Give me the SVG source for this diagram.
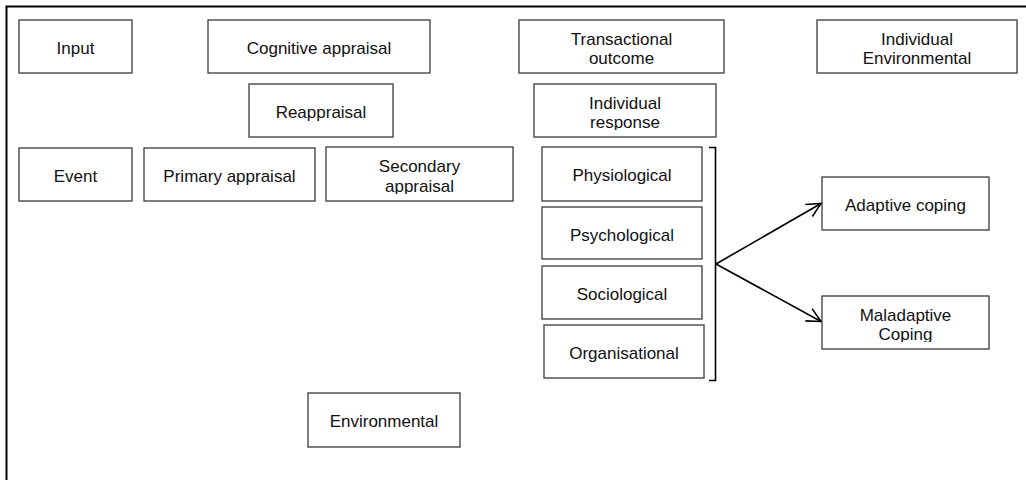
<svg xmlns="http://www.w3.org/2000/svg" width="1026" height="480" viewBox="0 0 1026 480">
<style>
.box{fill:#fff;stroke:#3a3a3a;stroke-width:1.3}
.t{font-family:"Liberation Sans",Arial,sans-serif;font-size:17px;fill:#111;text-anchor:middle}
.ln{stroke:#000;stroke-width:1.6;fill:none}
</style>
<defs>
<marker id="ah" viewBox="0 0 16 16" refX="15" refY="8" markerWidth="16" markerHeight="16" markerUnits="userSpaceOnUse" orient="auto">
<path d="M1,1 L15,8 L1,15" fill="none" stroke="#000" stroke-width="1.6"/>
</marker>
<clipPath id="c1"><rect x="326" y="147" width="187" height="47"/></clipPath>
<clipPath id="c2"><rect x="534" y="84" width="182" height="46"/></clipPath>
<clipPath id="c3"><rect x="820" y="296" width="169" height="46"/></clipPath>
</defs>
<rect width="1026" height="480" fill="#fff"/>
<g id="frame"><path d="M6.5,480 V6.5 H1026" fill="none" stroke="#000" stroke-width="2"/></g>

<g id="input"><rect class="box" x="19" y="20" width="113" height="53"/><text class="t" x="75.5" y="54">Input</text></g>
<g id="cognitive"><rect class="box" x="208" y="20" width="222" height="53"/><text class="t" x="319" y="54">Cognitive appraisal</text></g>
<g id="transactional"><rect class="box" x="519" y="20" width="205" height="53"/><text class="t" x="621.5" y="45">Transactional</text><text class="t" x="621.5" y="64">outcome</text></g>
<g id="indenv"><rect class="box" x="817" y="20" width="200" height="53"/><text class="t" x="917" y="45">Individual</text><text class="t" x="917" y="64">Environmental</text></g>

<g id="reappraisal"><rect class="box" x="249" y="84" width="144" height="53"/><text class="t" x="321" y="118">Reappraisal</text></g>
<g id="indresp"><rect class="box" x="534" y="84" width="182" height="53"/><g clip-path="url(#c2)"><text class="t" x="625" y="109">Individual</text><text class="t" x="625" y="128">response</text></g></g>

<g id="event"><rect class="box" x="19" y="148" width="113" height="53"/><text class="t" x="75.5" y="182">Event</text></g>
<g id="primary"><rect class="box" x="144" y="148" width="171" height="53"/><text class="t" x="229.5" y="182">Primary appraisal</text></g>
<g id="secondary"><rect class="box" x="326" y="147" width="187" height="54"/><g clip-path="url(#c1)"><text class="t" x="419.5" y="172">Secondary</text><text class="t" x="419.5" y="192">appraisal</text></g></g>

<g id="physiological"><rect class="box" x="542" y="147" width="160" height="54"/><text class="t" x="622" y="181">Physiological</text></g>
<g id="psychological"><rect class="box" x="542" y="207" width="160" height="52"/><text class="t" x="622" y="241">Psychological</text></g>
<g id="sociological"><rect class="box" x="542" y="266" width="160" height="53"/><text class="t" x="622" y="300">Sociological</text></g>
<g id="organisational"><rect class="box" x="544" y="325" width="160" height="53"/><text class="t" x="624" y="359">Organisational</text></g>

<g id="adaptive"><rect class="box" x="822" y="177" width="167" height="53"/><text class="t" x="905.5" y="211">Adaptive coping</text></g>
<g id="maladaptive"><rect class="box" x="822" y="296" width="167" height="53"/><g clip-path="url(#c3)"><text class="t" x="905.5" y="321">Maladaptive</text><text class="t" x="905.5" y="340">Coping</text></g></g>

<g id="environmental"><rect class="box" x="308" y="393" width="152" height="54"/><text class="t" x="384" y="427">Environmental</text></g>

<g id="connectors">
<path class="ln" d="M709,147.5 H715.5 V380.5 H709"/>
<line class="ln" x1="716" y1="264" x2="821" y2="203.5" marker-end="url(#ah)"/>
<line class="ln" x1="716" y1="264" x2="821" y2="321.5" marker-end="url(#ah)"/>
</g>
</svg>
